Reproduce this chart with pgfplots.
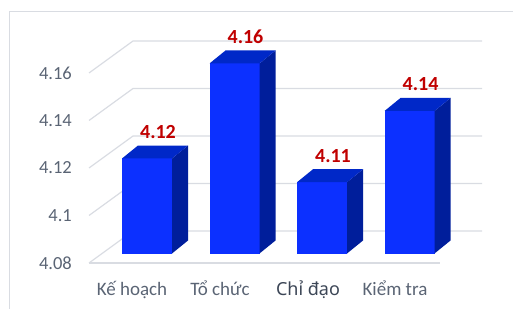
\documentclass[border=0pt]{standalone}
\usepackage{pgfplots}
\pgfplotsset{compat=1.18}
\usepackage{pgfplotstable}
\usepackage{fontspec}
\setmainfont{Carlito}
\newfontfamily\noto{Noto Sans}
\definecolor{cfront}{RGB}{12,48,255}
\definecolor{ctop}{RGB}{0,40,200}
\definecolor{cside}{RGB}{0,30,155}
\definecolor{gridgray}{RGB}{217,220,226}
\definecolor{tickgray}{RGB}{90,100,116}
\definecolor{darkgray2}{RGB}{60,70,86}
\definecolor{lblred}{RGB}{192,0,0}
\pgfplotstableread{
i v
0 4.12
1 4.16
2 4.11
3 4.14
}\data
\begin{document}
\begin{tikzpicture}
\begin{axis}[
 width=513bp, height=309bp, scale only axis,
 xmin=0, xmax=513, ymin=4.060632, ymax=4.190737,
 axis line style={draw=none}, tick style={draw=none},
 ytick={4.08,4.10,4.12,4.14,4.16},
 yticklabels={4.08,4.1,4.12,4.14,4.16},
 yticklabel style={anchor=east, inner sep=0pt, xshift=72bp, text=tickgray, font=\fontsize{18.5bp}{20bp}\selectfont},
 xtick={132,220,308,395},
 xticklabels={Kế hoạch,Tổ chức,{\noto\fontsize{18bp}{20bp}\selectfont\color{darkgray2}Chỉ đạo},Kiểm tra},
 xticklabel style={anchor=base, inner sep=0pt, yshift=14bp, text=tickgray, font=\fontsize{19bp}{21bp}\selectfont},
]
% frame
\addplot[draw=gridgray, line width=1bp, forget plot] coordinates {(9,4.060632)(9,4.185684)(513,4.185684)};
% walls / floor grid
\pgfplotsinvokeforeach{4.08,4.10,4.12,4.14,4.16}{
 \pgfmathsetmacro\tb{#1+0.013474}
 \edef\temp{\noexpand\addplot[draw=gridgray, line width=1.2bp, forget plot] coordinates {(89,#1)(133,\tb)(482,\tb)};}\temp
}
\addplot[draw=gridgray, line width=1.2bp, forget plot] coordinates {(89,4.08)(440,4.08)};
% bars
\pgfplotsinvokeforeach{0,1,2,3}{
 \pgfplotstablegetelem{#1}{v}\of\data
 \pgfmathsetmacro\vf{\pgfplotsretval+0.004}
 \pgfmathsetmacro\vb{\pgfplotsretval+0.009474}
 \pgfmathsetmacro\xl{122+87.5*#1}
 \pgfmathsetmacro\xr{\xl+50}
 \pgfmathsetmacro\xbl{\xl+16}
 \pgfmathsetmacro\xbr{\xr+16}
 \edef\temp{
  \noexpand\addplot[fill=cfront,draw=none,forget plot] coordinates {(\xl,4.084)(\xr,4.084)(\xr,\vf)(\xl,\vf)} --cycle;
  \noexpand\addplot[fill=cside,draw=none,forget plot] coordinates {(\xr,4.084)(\xbr,4.089474)(\xbr,\vb)(\xr,\vf)} --cycle;
  \noexpand\addplot[fill=ctop,draw=none,forget plot] coordinates {(\xl,\vf)(\xr,\vf)(\xbr,\vb)(\xbl,\vb)} --cycle;
 }\temp
}
% data labels
\addplot[only marks, mark=none, point meta=explicit,
 nodes near coords={\pgfmathprintnumber[fixed,precision=2,fixed zerofill,assume math mode=true]{\pgfplotspointmeta}},
 nodes near coords align={center},
 every node near coord/.append style={anchor=center, text=lblred, inner sep=0pt, font=\bfseries\fontsize{20bp}{22bp}\selectfont}]
 table[x expr={158+87.5*\thisrow{i}}, y expr={\thisrow{v}+0.01516}, meta=v] {\data};
\end{axis}
\pgfresetboundingbox
\path (current axis.south west) rectangle (current axis.north east);
\end{tikzpicture}
\end{document}
